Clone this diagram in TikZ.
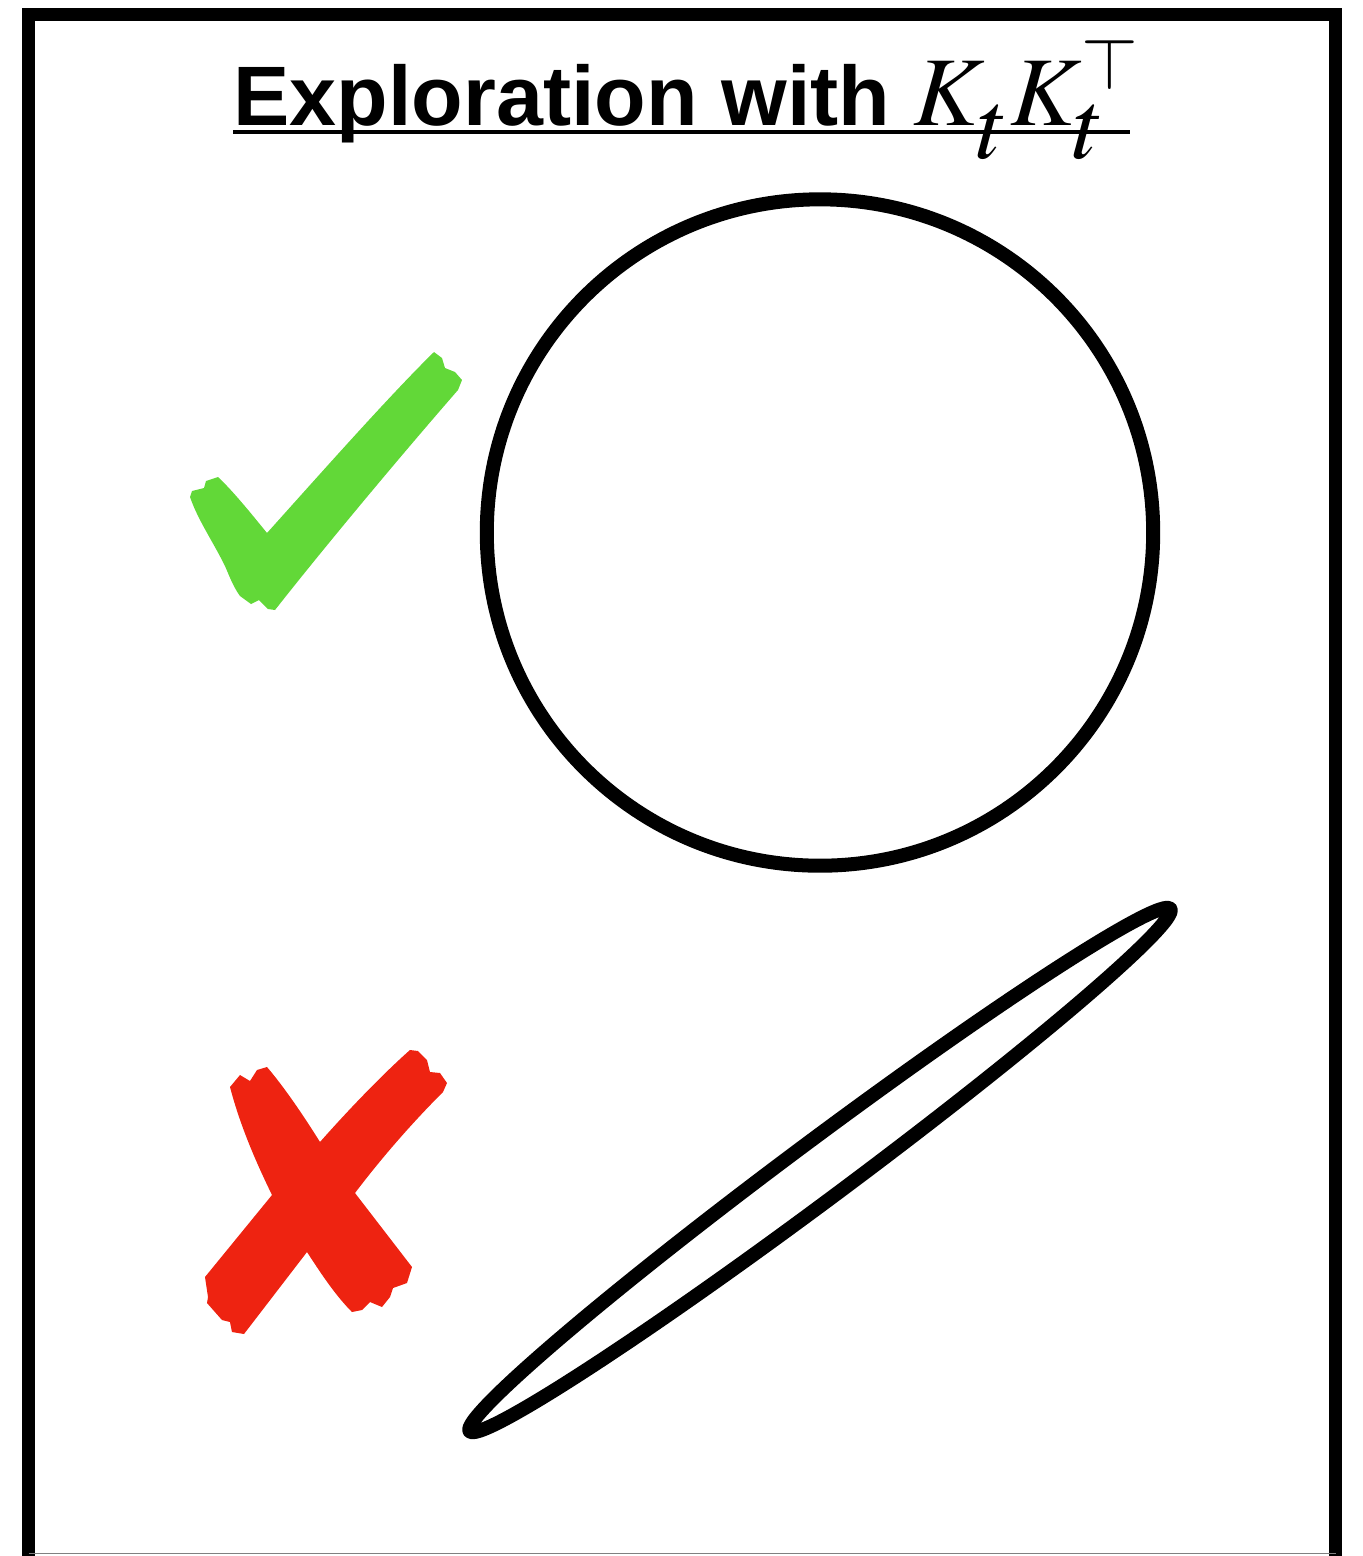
\documentclass[tikz,border=0pt]{standalone}
\usepackage{mathptmx}
\usepackage{fontspec}
\newfontfamily\headfont{Liberation Sans}
\usepackage{tikz}
\usetikzlibrary{positioning}
\definecolor{tickgreen}{HTML}{62D838}
\definecolor{crossred}{HTML}{EE2311}

\begin{document}
\begin{tikzpicture}[x=0.01cm, y=-0.01cm, line join=round,
    heavy/.style={line width=0.14cm},
    headline/.style={font=\headfont\bfseries\fontsize{24}{28}\selectfont, anchor=base west, inner sep=0pt}]
    \useasboundingbox (0,0) rectangle (1363,1556);

    % frame, bottom edge cut off
    \draw[line width=0.13cm, line join=miter] (28.5,1556) -- (28.5,14.5) -- (1335.5,14.5) -- (1335.5,1556);
    \draw[gray, line width=0.01cm] (28.5,1553) -- (1335.5,1553);

    \node[headline] (title) at (233,125) {Exploration with {\fontsize{28}{32}\selectfont$K_{\textstyle t}^{\vphantom{\top}}K_{\textstyle t}^{\top}$}};
    \coordinate[below=0.07cm of title.base west] (ul1);
    \coordinate[right=8.96cm of ul1] (ul2);
    \draw[line width=0.033cm] (ul1) -- (ul2);

    \node[draw, heavy, circle, minimum size=6.66cm, inner sep=0pt] (round) at (820,532.5) {};

    \coordinate (flat) at (820,1170);
    \draw[heavy, rotate around={36.7:(flat)}] (flat) ellipse (437 and 29);

    % tick
    \fill[tickgreen] (190,497) -- (192,491) -- (204,488) -- (206,481) -- (218,477)
        .. controls (232,490) and (250,512) .. (267,533)
        .. controls (320,474) and (390,395) .. (434,352)
        -- (442,358) -- (445,368) -- (455,372) -- (462,380) -- (458,390)
        .. controls (410,445) and (330,540) .. (275,610)
        -- (268,609) -- (259,600) -- (251,604) -- (240,596)
        .. controls (232,585) and (228,572) .. (224,564)
        .. controls (212,540) and (198,520) .. cycle;

    % cross
    \fill[crossred] (230,1087) -- (240,1075) -- (250,1081) -- (257,1070) -- (267,1067)
        .. controls (285,1088) and (305,1118) .. (320,1142)
        .. controls (350,1108) and (385,1072) .. (410,1050)
        -- (418,1051) -- (427,1060) -- (430,1072) -- (440,1073) -- (447,1083) -- (443,1092)
        .. controls (410,1125) and (380,1160) .. (355,1193)
        -- (412,1267) -- (407,1283) -- (393,1288) -- (390,1297) -- (382,1307) -- (370,1302) -- (362,1310) -- (352,1312)
        .. controls (335,1295) and (320,1272) .. (307,1252)
        -- (244,1334) -- (232,1332) -- (230,1322) -- (222,1320) -- (207,1303) -- (208,1297) -- (205,1277)
        -- (272,1195)
        .. controls (255,1160) and (240,1125) .. cycle;
\end{tikzpicture}
\end{document}
